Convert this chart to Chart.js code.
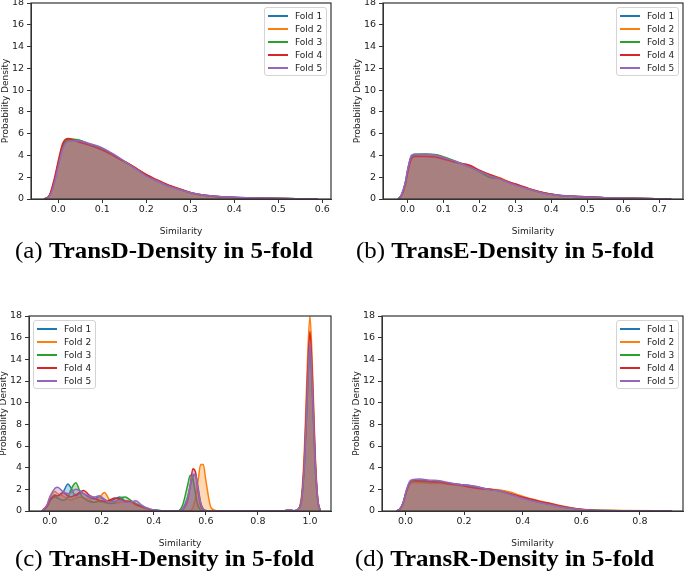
<!DOCTYPE html>
<html>
<head>
<meta charset="utf-8">
<script src="https://cdn.jsdelivr.net/npm/chart.js@4.4.1/dist/chart.umd.min.js"></script>
<style>
    html, body { margin: 0; padding: 0; background: #fff; }
    #page { position: relative; width: 685px; height: 584px; overflow: hidden; background: #fff; }
    .panel { position: absolute; }
    .caption {
        position: absolute;
        font-family: "Liberation Serif", "Times New Roman", serif;
        font-size: 23.5px;
        line-height: 23.5px;
        white-space: nowrap;
        color: #000;
        transform: scaleX(1.06);
        transform-origin: left top;
    }
    .legend {
        position: absolute;
        background: rgba(255, 255, 255, 0.8);
        border: 1px solid #d4d4d4;
        border-radius: 3px;
        padding: 1px 4px 1px 3px;
        font-family: "DejaVu Sans", sans-serif;
        font-size: 9px;
        color: #222;
    }
    .legend .row { display: flex; align-items: center; height: 13px; }
    .legend .swatch { display: inline-block; width: 20px; height: 2px; margin-right: 7px; }
</style>
</head>
<body>
<div id="page">
    <canvas id="chartA" class="panel"></canvas>
    <canvas id="chartB" class="panel"></canvas>
    <canvas id="chartC" class="panel"></canvas>
    <canvas id="chartD" class="panel"></canvas>
    <div class="caption" style="left:15px; top:239px;">(a) <b>TransD-Density in 5-fold</b></div>
    <div class="caption" style="left:356px; top:239px;">(b) <b>TransE-Density in 5-fold</b></div>
    <div class="caption" style="left:15px; top:547px;">(c) <b>TransH-Density in 5-fold</b></div>
    <div class="caption" style="left:355px; top:547px;">(d) <b>TransR-Density in 5-fold</b></div>
</div>
<script>
// ===== DATA =====
const foldNames = ['Fold 1', 'Fold 2', 'Fold 3', 'Fold 4', 'Fold 5'];
const yTicks = [0, 2, 4, 6, 8, 10, 12, 14, 16, 18];

// (a) TransD
const ticksA = [0.0, 0.1, 0.2, 0.3, 0.4, 0.5, 0.6];
const simA = [-0.032, -0.02, -0.01, 0, 0.01, 0.023, 0.045, 0.07, 0.1, 0.12, 0.14, 0.16, 0.18, 0.2, 0.225, 0.25, 0.275, 0.3, 0.325, 0.36, 0.4, 0.44, 0.48, 0.54, 0.59];
const transD1 = [0, 0.3, 1.5, 3.2, 4.8, 5.4, 5.4, 5.05, 4.65, 4.2, 3.7, 3.2, 2.7, 2.15, 1.65, 1.2, 0.9, 0.58, 0.38, 0.24, 0.15, 0.09, 0.06, 0.03, 0];
const transD2 = [0, 0.3, 1.5, 3.3, 4.9, 5.45, 5.3, 5.0, 4.6, 4.2, 3.7, 3.25, 2.7, 2.2, 1.7, 1.25, 0.92, 0.6, 0.38, 0.24, 0.14, 0.09, 0.06, 0.03, 0];
const transD3 = [0, 0.3, 1.4, 3.2, 4.9, 5.5, 5.45, 5.05, 4.6, 4.15, 3.65, 3.2, 2.7, 2.2, 1.7, 1.25, 0.9, 0.57, 0.37, 0.23, 0.14, 0.09, 0.06, 0.03, 0];
const transD4 = [0, 0.35, 1.7, 3.5, 5.1, 5.55, 5.25, 4.95, 4.5, 4.1, 3.65, 3.25, 2.75, 2.25, 1.75, 1.3, 0.95, 0.6, 0.38, 0.24, 0.14, 0.09, 0.06, 0.03, 0];
const transD5 = [0, 0.25, 1.3, 3.0, 4.6, 5.3, 5.35, 5.1, 4.7, 4.25, 3.75, 3.2, 2.65, 2.1, 1.65, 1.2, 0.88, 0.6, 0.4, 0.26, 0.15, 0.09, 0.06, 0.03, 0];

// (b) TransE
const ticksB = [0.0, 0.1, 0.2, 0.3, 0.4, 0.5, 0.6, 0.7];
const simB = [-0.026, -0.017, -0.007, 0.002, 0.011, 0.02, 0.05, 0.076, 0.108, 0.136, 0.173, 0.2, 0.228, 0.256, 0.284, 0.312, 0.349, 0.386, 0.423, 0.46, 0.515, 0.57, 0.626, 0.69, 0.733];
const transE1 = [0, 0.35, 1.35, 2.9, 3.95, 4.1, 4.12, 4.07, 3.72, 3.4, 2.95, 2.6, 2.2, 1.88, 1.5, 1.2, 0.8, 0.5, 0.34, 0.25, 0.18, 0.1, 0.06, 0.03, 0];
const transE2 = [0, 0.3, 1.25, 2.75, 3.8, 4.0, 4.0, 3.95, 3.65, 3.4, 3.0, 2.6, 2.25, 1.95, 1.55, 1.25, 0.85, 0.52, 0.33, 0.24, 0.17, 0.1, 0.06, 0.03, 0];
const transE3 = [0, 0.32, 1.3, 2.8, 3.85, 4.05, 4.1, 4.08, 3.8, 3.45, 2.95, 2.5, 2.0, 1.85, 1.5, 1.2, 0.8, 0.5, 0.33, 0.25, 0.18, 0.1, 0.06, 0.03, 0];
const transE4 = [0, 0.28, 1.2, 2.65, 3.7, 3.9, 3.9, 3.85, 3.6, 3.35, 3.1, 2.65, 2.25, 1.9, 1.55, 1.25, 0.82, 0.52, 0.33, 0.25, 0.18, 0.1, 0.06, 0.03, 0];
const transE5 = [0, 0.38, 1.4, 2.95, 4.0, 4.12, 4.12, 4.05, 3.72, 3.42, 2.92, 2.55, 2.15, 1.85, 1.45, 1.15, 0.78, 0.48, 0.32, 0.24, 0.17, 0.1, 0.06, 0.03, 0];

// (c) TransH
const ticksC = [0.0, 0.2, 0.4, 0.6, 0.8, 1.0];
const simC = [-0.03, -0.01, 0, 0.02, 0.03, 0.05, 0.07, 0.08, 0.1, 0.12, 0.13, 0.15, 0.17, 0.19, 0.21, 0.23, 0.25, 0.27, 0.29, 0.31, 0.33, 0.35, 0.37, 0.39, 0.42, 0.45, 0.49, 0.51, 0.53, 0.54, 0.55, 0.56, 0.57, 0.58, 0.59, 0.6, 0.62, 0.65, 0.8, 0.9, 0.92, 0.94, 0.96, 0.97, 0.98, 0.99, 1.0, 1.01, 1.02, 1.03, 1.04];
const transH1 = [0, 0.5, 1.0, 1.5, 1.4, 1.7, 2.5, 2.2, 1.4, 1.7, 1.6, 1.3, 1.1, 1.3, 1.0, 0.9, 1.1, 1.3, 0.9, 0.8, 0.7, 0.4, 0.25, 0.1, 0.03, 0, 0, 0.2, 1.3, 2.3, 3.2, 3.4, 2.2, 0.8, 0.2, 0.05, 0, 0, 0, 0.02, 0.08, 0.02, 0.3, 1.5, 5, 11, 15.3, 11, 4.5, 1.0, 0];
const transH2 = [0, 0.6, 1.2, 1.8, 1.6, 1.4, 1.1, 1.0, 1.2, 1.3, 1.2, 1.1, 0.8, 1.2, 1.7, 1.0, 0.7, 0.8, 0.95, 0.8, 0.6, 0.4, 0.2, 0.1, 0.02, 0, 0, 0, 0, 0.05, 0.3, 1.2, 2.8, 4.3, 4.3, 2.8, 0.3, 0, 0, 0.02, 0.06, 0.02, 0.4, 2, 6.5, 13.5, 18, 13, 5.5, 1.2, 0];
const transH3 = [0, 0.4, 0.9, 1.3, 1.2, 1.0, 1.3, 1.9, 2.6, 1.5, 1.2, 0.9, 0.8, 0.9, 0.8, 0.7, 0.8, 1.2, 1.3, 1.0, 0.7, 0.5, 0.3, 0.15, 0.05, 0, 0, 0.5, 2.4, 3.3, 3.0, 1.6, 0.5, 0.1, 0, 0, 0, 0, 0, 0.02, 0.06, 0.02, 0.3, 1.4, 4.8, 10.5, 15.2, 10.5, 4.3, 0.9, 0];
const transH4 = [0, 0.5, 1.0, 1.4, 1.4, 1.7, 1.4, 1.3, 1.5, 1.8, 1.9, 1.5, 1.2, 1.0, 0.9, 1.0, 1.2, 1.1, 0.9, 0.9, 0.6, 0.4, 0.25, 0.1, 0.02, 0, 0, 0.1, 1.0, 2.4, 3.9, 3.6, 1.8, 0.5, 0.1, 0, 0, 0, 0, 0.02, 0.08, 0.02, 0.3, 1.6, 5.5, 12, 16.6, 12, 5, 1.1, 0];
const transH5 = [0, 0.6, 1.3, 2.1, 2.2, 1.8, 1.6, 1.7, 2.0, 1.8, 1.6, 1.4, 1.3, 1.4, 1.1, 0.8, 0.9, 1.0, 0.8, 0.8, 0.95, 0.6, 0.3, 0.15, 0.05, 0, 0, 0.15, 1.2, 2.4, 3.4, 3.3, 2.0, 0.7, 0.15, 0, 0, 0, 0, 0.03, 0.1, 0.03, 0.3, 1.5, 5, 11, 15.5, 11, 4.6, 1.0, 0];

// (d) TransR
const ticksD = [0.0, 0.2, 0.4, 0.6, 0.8];
const simD = [-0.031, -0.019, -0.008, 0.003, 0.015, 0.026, 0.049, 0.083, 0.117, 0.151, 0.185, 0.22, 0.254, 0.288, 0.322, 0.356, 0.39, 0.424, 0.458, 0.493, 0.527, 0.561, 0.595, 0.64, 0.74, 0.908];
const transR1 = [0, 0.18, 0.75, 1.85, 2.65, 2.8, 2.85, 2.75, 2.7, 2.55, 2.45, 2.35, 2.15, 2.0, 1.85, 1.6, 1.3, 1.02, 0.8, 0.62, 0.42, 0.27, 0.14, 0.06, 0.03, 0];
const transR2 = [0, 0.16, 0.7, 1.7, 2.45, 2.6, 2.6, 2.55, 2.55, 2.45, 2.35, 2.2, 2.1, 2.0, 1.95, 1.75, 1.45, 1.15, 0.92, 0.72, 0.5, 0.32, 0.18, 0.08, 0.04, 0];
const transR3 = [0, 0.18, 0.74, 1.8, 2.6, 2.75, 2.8, 2.7, 2.7, 2.55, 2.45, 2.3, 2.15, 1.95, 1.85, 1.6, 1.3, 1.05, 0.82, 0.64, 0.43, 0.28, 0.15, 0.06, 0.03, 0];
const transR4 = [0, 0.17, 0.72, 1.8, 2.65, 2.85, 2.75, 2.7, 2.65, 2.5, 2.4, 2.2, 2.05, 2.0, 1.85, 1.6, 1.35, 1.1, 0.88, 0.7, 0.47, 0.3, 0.16, 0.07, 0.03, 0];
const transR5 = [0, 0.2, 0.78, 1.9, 2.75, 2.9, 2.95, 2.85, 2.8, 2.6, 2.45, 2.35, 2.2, 1.95, 1.85, 1.55, 1.25, 1.0, 0.78, 0.6, 0.4, 0.25, 0.13, 0.05, 0.03, 0];

// ===== STYLE =====
const foldColors = ['#1f77b4', '#ff7f0e', '#2ca02c', '#d62728', '#9467bd'];
const fillColors = ['rgba(31,119,180,0.3)', 'rgba(255,127,14,0.3)', 'rgba(44,160,44,0.3)', 'rgba(214,39,40,0.3)', 'rgba(148,103,189,0.3)'];

const PAD_L = 4, PAD_T = 12, PAD_R = 4, PAD_B = 2;
const Y_W = 31, X_H = 38;

// frame around plot area (matplotlib spines)
const framePlugin = {
    id: 'frame',
    afterDatasetsDraw(chart) {
        const { ctx, chartArea: a } = chart;
        ctx.save();
        ctx.strokeStyle = '#333';
        ctx.lineWidth = 1.2;
        ctx.strokeRect(a.left, a.top, a.right - a.left, a.bottom - a.top);
        ctx.restore();
    }
};

function buildDatasets(xs, folds) {
    return folds.map((ys, i) => ({
        label: foldNames[i],
        data: xs.map((x, j) => ({ x: x, y: ys[j] })),
        borderColor: foldColors[i],
        backgroundColor: fillColors[i],
        fill: 'origin',
        borderWidth: 1.5,
        pointRadius: 0,
        cubicInterpolationMode: 'monotone',
        order: folds.length - 1 - i   // later folds painted on top, like seaborn
    }));
}

function makeLegend(chart, box, corner) {
    const page = document.getElementById('page');
    const el = document.createElement('div');
    el.className = 'legend';
    chart.data.datasets.forEach(ds => {
        const row = document.createElement('div');
        row.className = 'row';
        row.innerHTML = `<span class="swatch" style="background:${ds.borderColor}"></span><span>${ds.label}</span>`;
        el.appendChild(row);
    });
    page.appendChild(el);
    const a = chart.chartArea;
    el.style.top = (box.top + a.top + 4) + 'px';
    if (corner === 'left') {
        el.style.left = (box.left + a.left + 4) + 'px';
    } else {
        el.style.left = (box.left + a.right - 4 - el.offsetWidth) + 'px';
    }
}

function createPanel(canvasId, plot, xMin, xMax, xTicks, xs, folds, legendCorner) {
    const canvas = document.getElementById(canvasId);
    const box = {
        left: plot.left - Y_W - PAD_L,
        top: plot.top - PAD_T,
        width: PAD_L + Y_W + (plot.right - plot.left) + PAD_R,
        height: PAD_T + (plot.bottom - plot.top) + X_H + PAD_B
    };
    canvas.width = box.width;
    canvas.height = box.height;
    canvas.style.left = box.left + 'px';
    canvas.style.top = box.top + 'px';

    const tickFont = { family: "'DejaVu Sans', sans-serif", size: 9.5 };
    const titleFont = { family: "'DejaVu Sans', sans-serif", size: 9 };

    const chart = new Chart(canvas, {
        type: 'line',
        data: { datasets: buildDatasets(xs, folds) },
        options: {
            responsive: false,
            animation: false,
            devicePixelRatio: 1,
            layout: { padding: { left: PAD_L, top: PAD_T, right: PAD_R, bottom: PAD_B } },
            plugins: { legend: { display: false }, tooltip: { enabled: false } },
            scales: {
                x: {
                    type: 'linear',
                    min: xMin,
                    max: xMax,
                    afterBuildTicks: s => { s.ticks = xTicks.map(v => ({ value: v })); },
                    afterFit: s => { s.height = X_H; },
                    grid: { display: true, drawOnChartArea: false, drawTicks: true, tickLength: 4, color: '#333' },
                    border: { display: true, color: '#333' },
                    ticks: { font: tickFont, color: '#222', padding: 1, maxRotation: 0, callback: v => Number(v).toFixed(1) },
                    title: { display: true, text: 'Similarity', font: titleFont, color: '#222', padding: 0 }
                },
                y: {
                    type: 'linear',
                    min: 0,
                    max: 18,
                    afterBuildTicks: s => { s.ticks = yTicks.map(v => ({ value: v })); },
                    afterFit: s => { s.width = Y_W; },
                    grid: { display: true, drawOnChartArea: false, drawTicks: true, tickLength: 4, color: '#333' },
                    border: { display: true, color: '#333' },
                    ticks: { font: tickFont, color: '#222', padding: 3, callback: v => String(v) },
                    title: { display: true, text: 'Probability Density', font: titleFont, color: '#222', padding: 0 }
                }
            }
        },
        plugins: [framePlugin]
    });

    makeLegend(chart, box, legendCorner);
    return chart;
}

// ===== INITIALIZATION =====
createPanel('chartA', { left: 31, top: 3, right: 331, bottom: 199 }, -0.062, 0.62, ticksA, simA,
    [transD1, transD2, transD3, transD4, transD5], 'right');
createPanel('chartB', { left: 383, top: 3, right: 683, bottom: 199 }, -0.068, 0.766, ticksB, simB,
    [transE1, transE2, transE3, transE4, transE5], 'right');
createPanel('chartC', { left: 29, top: 316, right: 331, bottom: 511 }, -0.08, 1.081, ticksC, simC,
    [transH1, transH2, transH3, transH4, transH5], 'left');
createPanel('chartD', { left: 382, top: 316, right: 683, bottom: 511 }, -0.08, 0.947, ticksD, simD,
    [transR1, transR2, transR3, transR4, transR5], 'right');
</script>
</body>
</html>
